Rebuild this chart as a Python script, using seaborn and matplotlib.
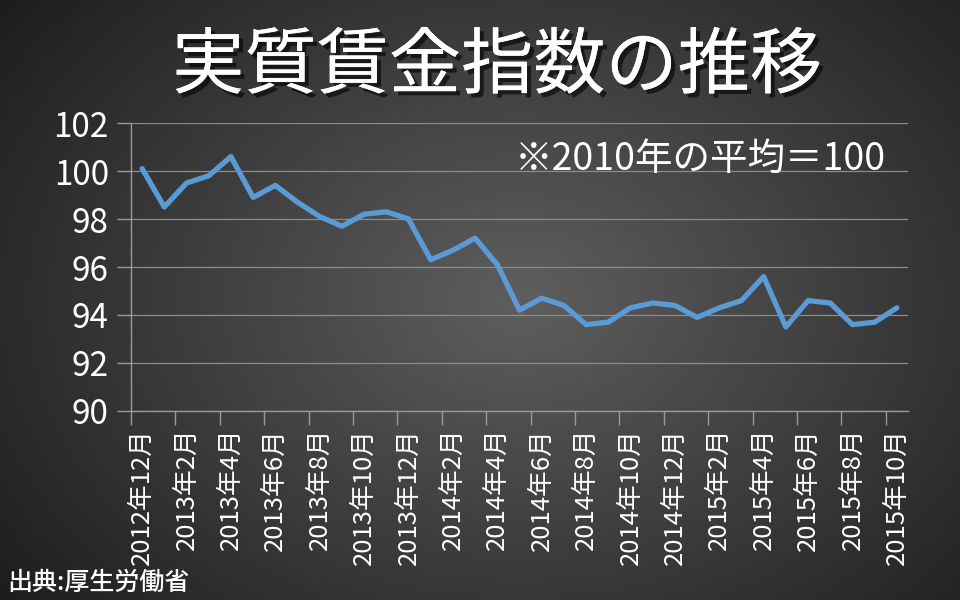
import numpy as np
import pandas as pd
import matplotlib
matplotlib.use("Agg")
import matplotlib.pyplot as plt
import matplotlib.patheffects as pe
import seaborn as sns

months = [
    "2012年12月", "2013年1月", "2013年2月", "2013年3月", "2013年4月", "2013年5月",
    "2013年6月", "2013年7月", "2013年8月", "2013年9月", "2013年10月", "2013年11月",
    "2013年12月", "2014年1月", "2014年2月", "2014年3月", "2014年4月", "2014年5月",
    "2014年6月", "2014年7月", "2014年8月", "2014年9月", "2014年10月", "2014年11月",
    "2014年12月", "2015年1月", "2015年2月", "2015年3月", "2015年4月", "2015年5月",
    "2015年6月", "2015年7月", "2015年8月", "2015年9月", "2015年10月",
]
wage_index = [
    100.1, 98.5, 99.5, 99.8, 100.6, 98.9, 99.4, 98.7, 98.1, 97.7, 98.2, 98.3,
    98.0, 96.3, 96.7, 97.2, 96.1, 94.2, 94.7, 94.4, 93.6, 93.7, 94.3, 94.5,
    94.4, 93.9, 94.3, 94.6, 95.6, 93.5, 94.6, 94.5, 93.6, 93.7, 94.3,
]
y_ticks = [90, 92, 94, 96, 98, 100, 102]

title = "実質賃金指数の推移"
note = "※2010年の平均＝100"
source = "出典:厚生労働省"

sns.set_theme(style="dark")
plt.rcParams["font.family"] = ["Noto Sans CJK JP", "DejaVu Sans"]

df = pd.DataFrame({"pos": np.arange(len(months)), "value": wage_index})

fig = plt.figure(figsize=(9.6, 6.0), dpi=100)

# radial gradient background
bg = fig.add_axes([0, 0, 1, 1], zorder=0)
yy, xx = np.mgrid[0:600, 0:960]
r = np.sqrt(((xx - 520) / 560.0) ** 2 + ((yy - 300) / 420.0) ** 2)
shade = np.clip(0.37 - 0.22 * r, 0.1, 0.4)
img = np.dstack([shade, shade, shade])
bg.imshow(img, aspect="auto", extent=[0, 1, 0, 1])
bg.axis("off")

ax = fig.add_axes([0.1365, 0.315, 0.8093, 0.48], zorder=1)
ax.patch.set_alpha(0)

sns.lineplot(data=df, x="pos", y="value", ax=ax, color="#5B9BD5", linewidth=3.8)

ax.set_xlim(-0.5, len(months) - 0.5)
ax.set_ylim(90, 102)
ax.set_yticks(y_ticks)
ax.set_yticklabels([str(v) for v in y_ticks])
label_pos = list(range(0, len(months), 2))
ax.set_xticks(label_pos)
ax.set_xticklabels([months[i] for i in label_pos], rotation=90)
ax.set_xticks([p - 0.5 for p in label_pos], minor=True)

ax.grid(axis="y", color="#8c8c8c", linewidth=0.9)
ax.grid(axis="x", visible=False)
ax.set_xlabel("")
ax.set_ylabel("")

for s in ["top", "right"]:
    ax.spines[s].set_visible(False)
for s in ["left", "bottom"]:
    ax.spines[s].set_visible(True)
    ax.spines[s].set_color("#9a9a9a")
    ax.spines[s].set_linewidth(1.0)

ax.tick_params(axis="y", which="major", left=True, length=10, width=1.0,
               color="#9a9a9a", labelcolor="white", labelsize=24, pad=6)
ax.tick_params(axis="x", which="major", bottom=False, labelcolor="white",
               labelsize=18.5, pad=6)
ax.tick_params(axis="x", which="minor", bottom=True, length=10, width=1.0,
               color="#9a9a9a")

fig.text(0.518, 0.888, title, ha="center", va="center", color="white",
         fontsize=52, fontweight="normal", zorder=3,
         path_effects=[pe.withSimplePatchShadow(offset=(3, -3), shadow_rgbFace="black",
                                                alpha=0.6), pe.Normal()])

ax.text(0.972, 0.875, note, transform=ax.transAxes, ha="right", va="center",
        color="white", fontsize=27)

fig.text(0.008, 0.028, source, ha="left", va="center", color="white",
         fontsize=18, fontweight="medium", zorder=3)

fig.savefig("out.png", dpi=100)
